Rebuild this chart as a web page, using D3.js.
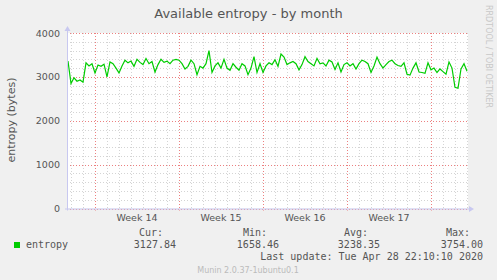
<!DOCTYPE html>
<html><head><meta charset="utf-8">
<script src="https://cdn.jsdelivr.net/npm/d3@7"></script>
<style>
html,body{margin:0;padding:0;background:#f0f0f0;}
svg{display:block;}
</style></head>
<body>
<script>
// ---- data ----
const title = "Available entropy - by month";
const yLabel = "entropy (bytes)";
const seriesName = "entropy";
const seriesStart = "2020-03-27T18:00:00Z"; // first sample, 6h step
const stepHours = 6;
const values = [
3360,2850,2980,2900,2930,2880,3320,3250,3300,3090,
3270,3240,3290,3000,3340,3300,3200,3090,3250,3380,
3320,3360,3240,3400,3330,3280,3420,3300,3350,3110,
3280,3400,3330,3360,3300,3380,3400,3380,3300,3180,
3240,3380,3300,3050,3240,3200,3300,3600,3100,3250,
3320,3200,3400,3200,3150,3300,3220,3150,3300,3250,
3050,3200,3460,3100,3300,3100,3250,3320,3280,3390,
3240,3520,3450,3280,3320,3350,3300,3160,3280,3460,
3350,3300,3250,3420,3300,3320,3250,3380,3340,3170,
3320,3110,3280,3320,3250,3300,3180,3300,3380,3350,
3300,3100,3250,3450,3300,3200,3280,3350,3380,3300,
3260,3240,3320,3060,3040,3200,3320,3110,3100,3080,
3320,3160,3200,3100,3180,3120,3060,3340,3200,2760,
2740,3180,3300,3128
];
const yTicks = [0,1000,2000,3000,4000];
const weekLabels = ["Week 14","Week 15","Week 16","Week 17"];
const weekStarts = ["2020-03-30","2020-04-06","2020-04-13","2020-04-20","2020-04-27"];
const domainStart = "2020-03-27T16:00:00Z";
const domainEnd = "2020-04-30T02:00:00Z";
const legendLabels = ["Cur:","Min:","Avg:","Max:"];
const legendValues = ["3127.84","1658.46","3238.35","3754.00"];
const lastUpdate = "Last update: Tue Apr 28 22:10:10 2020";
const footer = "Munin 2.0.37-1ubuntu0.1";
const sideText = "RRDTOOL / TOBI OETIKER";

// ---- drawing ----
const W = 497, H = 280;
const L = 67, R = 468, T = 33, B = 208.5;
const svg = d3.select("body").append("svg").attr("width", W).attr("height", H);
svg.append("rect").attr("width", W).attr("height", H).attr("fill", "#f0f0f0");

const x = d3.scaleUtc().domain([new Date(domainStart), new Date(domainEnd)]).range([L, R]);
const y = d3.scaleLinear().domain([0, 4000]).range([B, T]);

svg.append("rect").attr("x", L).attr("y", T).attr("width", R - L).attr("height", B - T).attr("fill", "#fff");

const grid = svg.append("g");
const minorCol = "#d4d4d4", majorCol = "#ec8080";
// minor horizontal
d3.range(0, 4001, 200).filter(v => v % 1000 !== 0).forEach(v => {
  grid.append("line").attr("x1", L).attr("x2", R).attr("y1", Math.round(y(v)) + 0.5).attr("y2", Math.round(y(v)) + 0.5)
    .attr("stroke", minorCol).attr("stroke-dasharray", "1,2");
});
// minor vertical (days)
const days = d3.utcDay.range(new Date(domainStart), new Date(domainEnd));
const weekSet = new Set(weekStarts.map(d => +new Date(d + "T00:00:00Z")));
days.filter(d => !weekSet.has(+d)).forEach(d => {
  const xx = Math.round(x(d)) + 0.5;
  grid.append("line").attr("x1", xx).attr("x2", xx).attr("y1", T).attr("y2", B)
    .attr("stroke", minorCol).attr("stroke-dasharray", "1,2");
});
// major horizontal
yTicks.forEach(v => {
  grid.append("line").attr("x1", L).attr("x2", R).attr("y1", Math.round(y(v)) + 0.5).attr("y2", Math.round(y(v)) + 0.5)
    .attr("stroke", majorCol).attr("stroke-dasharray", "1,2");
});
// major vertical
weekStarts.forEach(s => {
  const xx = Math.round(x(new Date(s + "T00:00:00Z"))) + 0.5;
  grid.append("line").attr("x1", xx).attr("x2", xx).attr("y1", T).attr("y2", B + 2)
    .attr("stroke", majorCol).attr("stroke-dasharray", "1,2");
});

// data line
const t0 = new Date(seriesStart).getTime();
const pts = values.map((v, i) => [new Date(t0 + i * stepHours * 3600e3), v]);
svg.append("path").datum(pts)
  .attr("d", d3.line().x(d => x(d[0])).y(d => y(d[1])))
  .attr("fill", "none").attr("stroke", "#00cc00").attr("stroke-width", 1.2);

// axes
const axisCol = "#c8c8f0";
svg.append("line").attr("x1", L + 0.5).attr("x2", L + 0.5).attr("y1", B + 2).attr("y2", 29).attr("stroke", axisCol);
svg.append("path").attr("d", `M${L - 2.5},31 L${L + 0.5},26 L${L + 3.5},31 Z`).attr("fill", axisCol);
svg.append("line").attr("x1", L - 2).attr("x2", 470).attr("y1", B + 0.5).attr("y2", B + 0.5).attr("stroke", axisCol);
svg.append("path").attr("d", `M469,${B - 2.5} L474,${B + 0.5} L469,${B + 3.5} Z`).attr("fill", axisCol);

const txt = "#555";
// y tick labels
yTicks.forEach(v => {
  svg.append("text").attr("x", 60).attr("y", y(v) + 3.5).attr("text-anchor", "end")
    .attr("font-family", "DejaVu Sans").attr("font-size", 9.5).attr("fill", txt).text(v);
});
// week labels
weekLabels.forEach((lab, i) => {
  const a = x(new Date(weekStarts[i] + "T00:00:00Z")), b = x(new Date(weekStarts[i + 1] + "T00:00:00Z"));
  svg.append("text").attr("x", (a + b) / 2).attr("y", 221).attr("text-anchor", "middle")
    .attr("font-family", "DejaVu Sans").attr("font-size", 9.5).attr("fill", txt).text(lab);
});

// title
svg.append("text").attr("x", 248.5).attr("y", 18).attr("text-anchor", "middle")
  .attr("font-family", "DejaVu Sans").attr("font-size", 13).attr("fill", txt).text(title);
// y label
svg.append("text").attr("transform", "translate(15,120) rotate(-90)").attr("text-anchor", "middle")
  .attr("font-family", "DejaVu Sans").attr("font-size", 11).attr("fill", txt).text(yLabel);
// side text
svg.append("text").attr("transform", "translate(486,5) rotate(90)").attr("text-anchor", "start")
  .attr("font-family", "DejaVu Sans").attr("font-size", 8).attr("fill", "#c8c8c8").text(sideText);

// legend
const mono = "DejaVu Sans Mono";
svg.append("rect").attr("x", 14).attr("y", 242).attr("width", 6).attr("height", 6).attr("fill", "#00cc00");
svg.append("text").attr("x", 26).attr("y", 248).attr("font-family", mono).attr("font-size", 10).attr("fill", txt).text(seriesName);
const labRight = [163, 267, 368, 470];
const valRight = [176, 279, 380, 483];
legendLabels.forEach((l, i) => {
  svg.append("text").attr("x", labRight[i]).attr("y", 236).attr("text-anchor", "end")
    .attr("font-family", mono).attr("font-size", 10).attr("fill", txt).text(l);
  svg.append("text").attr("x", valRight[i]).attr("y", 248).attr("text-anchor", "end")
    .attr("font-family", mono).attr("font-size", 10).attr("fill", txt).text(legendValues[i]);
});
svg.append("text").attr("x", 483).attr("y", 260).attr("text-anchor", "end")
  .attr("font-family", mono).attr("font-size", 10).attr("fill", txt).text(lastUpdate);
svg.append("text").attr("x", 248).attr("y", 273).attr("text-anchor", "middle")
  .attr("font-family", "DejaVu Sans").attr("font-size", 8).attr("fill", "#bbb").text(footer);
</script>
</body></html>
